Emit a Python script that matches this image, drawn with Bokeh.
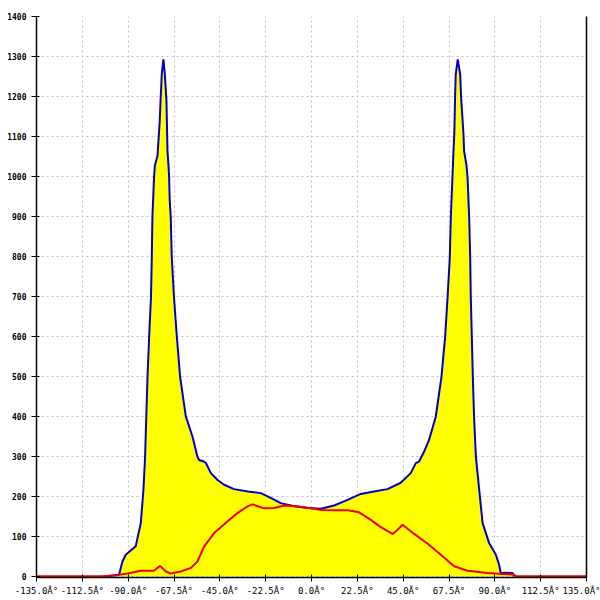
from bokeh.plotting import figure
from bokeh.models import FixedTicker, LinearAxis, Range1d
from bokeh.embed import file_html
from bokeh.resources import INLINE

# Tick positions and labels
x_ticks = [-135, -112.5, -90, -67.5, -45, -22.5, 0, 22.5, 45, 67.5, 90, 112.5, 135]
x_tick_labels = ["-135.0Â°", "-112.5Â°", "-90.0Â°", "-67.5Â°", "-45.0Â°", "-22.5Â°",
                 "0.0Â°", "22.5Â°", "45.0Â°", "67.5Â°", "90.0Â°", "112.5Â°", "135.0Â°"]
y_ticks = [0, 100, 200, 300, 400, 500, 600, 700, 800, 900, 1000, 1100, 1200, 1300, 1400]

# Envelope (blue line, yellow fill)
blue_angle = [-100.5, -94.5, -92.8, -91.2, -86.3, -83.8, -82.5, -81.7, -80.5, -79.7,
              -78.8, -78.4, -78.1, -77.3, -76.9, -75.6, -74.5, -74.1, -73.5, -72.7,
              -72.0, -71.2, -71.0, -70.7, -70.2, -69.9, -69.6, -69.1, -68.6, -67.5,
              -66.1, -64.5, -61.7, -58.4, -56.0, -55.2, -52.9, -51.9, -49.4, -46.1,
              -42.9, -38.0, -31.4, -24.9, -20.0, -15.1, -8.5, -2.0, 4.6, 11.1,
              17.7, 24.2, 30.7, 37.3, 43.8, 48.7, 51.2, 52.8, 55.3, 57.7,
              61.0, 63.8, 65.6, 66.8, 67.9, 68.4, 69.2, 69.7, 70.1, 70.5,
              70.8, 71.8, 73.0, 73.4, 74.6, 74.9, 76.1, 76.6, 77.4, 77.9,
              78.2, 78.7, 79.2, 79.8, 80.7, 81.5, 84.0, 87.2, 90.5, 92.1,
              92.9, 95.4, 98.8, 99.5]
blue_count = [0, 4, 37, 54, 75, 133, 216, 299, 499, 599,
              698, 798, 898, 998, 1027, 1052, 1139, 1189, 1256, 1293,
              1256, 1189, 1139, 1064, 1027, 998, 940, 898, 798, 698,
              599, 499, 400, 349, 299, 291, 287, 284, 258, 241,
              229, 218, 212, 208, 196, 183, 175, 171, 169, 177,
              191, 206, 212, 218, 234, 258, 283, 287, 312, 341,
              399, 499, 599, 698, 798, 898, 998, 1064, 1106, 1201,
              1255, 1293, 1255, 1201, 1106, 1064, 1027, 998, 898, 798,
              698, 599, 499, 399, 299, 258, 133, 83, 54, 29,
              8, 9, 8, 0]

# Second series (red line)
red_angle = [-135, -103, -97.1, -90.3, -83.8, -77.4, -74.3, -71.5, -69.1, -64.2,
             -59.2, -56.0, -52.7, -47.8, -41.3, -36.4, -31.4, -29.0, -23.3, -18.4,
             -13.5, -6.9, 1.3, 4.6, 11.1, 17.7, 23.4, 29.1, 34.0, 39.8,
             42.2, 44.7, 50.4, 56.9, 63.5, 70.0, 76.6, 86.4, 99.5, 100.3, 135]
red_count = [0, 0, 2, 7, 14, 14, 26, 12, 7, 12,
             21, 37, 75, 108, 137, 158, 175, 180, 170, 171,
             177, 175, 169, 166, 165, 165, 160, 141, 123, 106,
             116, 129, 106, 82, 54, 25, 14, 8, 4, 0, 0]

FONT = "DejaVu Sans Mono"

p = figure(width=600, height=598,
           x_range=Range1d(-135, 135), y_range=Range1d(-3, 1400),
           output_backend="svg", toolbar_location=None,
           min_border_left=36, min_border_right=14, min_border_top=16, min_border_bottom=20)
p.outline_line_color = None
p.background_fill_color = "white"
p.border_fill_color = "white"

p.varea(x=blue_angle, y1=0, y2=blue_count, fill_color="#ffff00")
p.line(blue_angle, blue_count, line_color="#0000c8", line_width=2)
p.line(red_angle, red_count, line_color="#ee0000", line_width=2)

# Grids
for g in (p.xgrid, p.ygrid):
    g.grid_line_color = "#c0c0c0"
    g.grid_line_dash = "2 3"
    g.grid_line_width = 1
p.xgrid.ticker = FixedTicker(ticks=x_ticks)
p.ygrid.ticker = FixedTicker(ticks=y_ticks)

# X axis
xa = p.xaxis[0]
xa.ticker = FixedTicker(ticks=x_ticks)
xa.major_label_overrides = dict(zip([float(t) for t in x_ticks], x_tick_labels))
xa.major_label_text_font = FONT
xa.major_label_text_font_size = "9px"
xa.major_label_text_color = "black"
xa.major_label_standoff = 4
xa.major_tick_out = 4
xa.major_tick_in = 3
xa.minor_tick_line_color = None
xa.axis_line_color = "black"
xa.axis_line_width = 1.5
xa.major_tick_line_color = "black"

# Y axis
ya = p.yaxis[0]
ya.ticker = FixedTicker(ticks=y_ticks)
ya.major_label_text_font = FONT
ya.major_label_text_font_size = "8px"
ya.major_label_text_font_style = "bold"
ya.major_label_text_color = "black"
ya.major_label_standoff = 5
ya.major_tick_out = 5
ya.major_tick_in = 3
ya.minor_tick_line_color = None
ya.axis_line_color = "black"
ya.axis_line_width = 1.5
ya.major_tick_line_color = "black"

# Right frame line
ra = LinearAxis(ticker=FixedTicker(ticks=[]), major_label_text_font_size="0px",
                major_tick_out=0, major_tick_in=0, minor_tick_out=0, minor_tick_in=0,
                major_label_standoff=0, axis_line_color="black", axis_line_width=1.5)
p.add_layout(ra, "right")

open("out.html", "w").write(file_html(p, INLINE))
